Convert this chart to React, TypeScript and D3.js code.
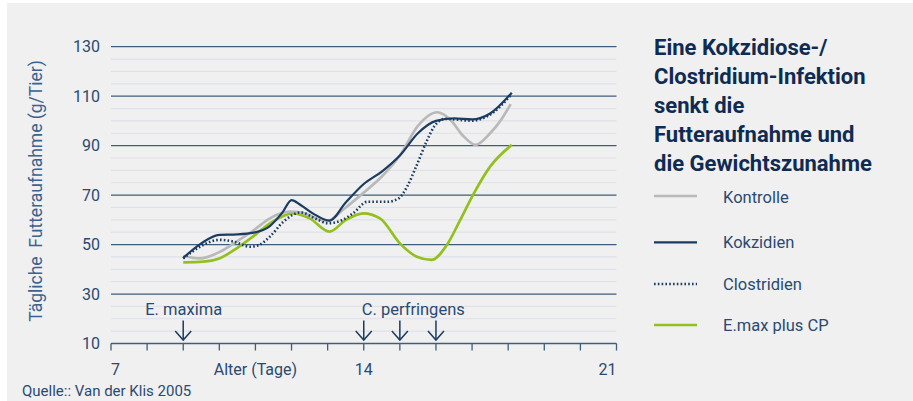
import React from "react";
import * as d3 from "d3";

// ---- data ----
const yTicks = [10, 30, 50, 70, 90, 110, 130];
const yMinorTicks = [15, 20, 25, 35, 40, 45, 55, 60, 65, 75, 80, 85, 95, 100, 105, 115, 120, 125];
const xTickDays = [7, 8, 9, 10, 11, 12, 13, 14, 15, 16, 17, 18, 19, 20, 21];
const xTickLabels = ["7", "14", "21"];

const kontrolleDays = [9.0, 9.47, 10.02, 10.48, 10.99, 11.4, 11.96, 12.3, 12.97, 13.5, 14.0, 14.5, 15.0, 15.5, 16.03, 16.4, 16.75, 17.1, 17.5, 17.8, 18.07];
const kontrolleVals = [45.4, 44.4, 47.1, 51.2, 56.2, 60.6, 63.3, 62.8, 59.5, 65, 71, 77.5, 86, 98, 103.5, 100.5, 94, 90.3, 95, 100.4, 106.8];

const kokzidienDays = [9.0, 9.5, 10.0, 10.5, 10.95, 11.4, 11.75, 12.0, 12.25, 12.6, 13.05, 13.5, 14.0, 14.5, 15.0, 15.5, 16.0, 16.5, 17.0, 17.5, 18.1];
const kokzidienVals = [44.6, 50.5, 53.9, 54.1, 54.8, 57.5, 63, 68, 66, 62.5, 59.7, 67, 74.5, 79.5, 86, 95, 100, 101, 100.6, 103, 111.4];

const clostridienDays = [9.0, 9.55, 10.0, 10.4, 10.85, 11.1, 11.4, 11.78, 12.25, 12.7, 13.0, 13.4, 13.7, 14.1, 14.65, 14.95, 15.2, 15.45, 15.75, 15.95, 16.25, 16.99, 17.55, 18.1];
const clostridienVals = [44.4, 49.8, 51.9, 51.2, 49.1, 49.8, 53.2, 59.3, 63, 60.2, 58.6, 59.9, 62.6, 67.3, 67.3, 68.5, 73.4, 81.5, 92, 97.7, 100.8, 100.1, 103, 110.9];

const emaxDays = [9.0, 9.56, 10.0, 10.48, 10.99, 11.4, 12.05, 12.5, 13.05, 13.5, 13.99, 14.45, 15.0, 15.47, 15.88, 16.3, 16.67, 17.05, 17.5, 18.1];
const emaxVals = [42.8, 43.1, 44.4, 48.5, 53.9, 58.6, 62.6, 60.6, 55.2, 59.9, 62.6, 60.6, 50.5, 45.1, 43.8, 49.8, 59.9, 70.7, 81.5, 90.3];

const seriesNames = ["Kontrolle", "Kokzidien", "Clostridien", "E.max plus CP"];
const titleLines = ["Eine Kokzidiose-/", "Clostridium-Infektion", "senkt die", "Futteraufnahme und", "die Gewichtszunahme"];
const annotationLabels = ["E. maxima", "C. perfringens"];
const eMaximaDays = [9];
const cPerfDays = [14, 15, 16];
const yAxisTitle = "Tägliche  Futteraufnahme (g/Tier)";
const xAxisTitle = "Alter (Tage)";
const sourceText = "Quelle:: Van der Klis 2005";

// ---- styles ----
const NAVY = "#1b3b60";
const GRAY = "#b9b9b9";
const GREEN = "#93c01f";
const TEXT = "#2a4a70";
const FONT = "Roboto, 'Open Sans', sans-serif";

export default function App() {
  const x = d3.scaleLinear().domain([7, 21]).range([111, 616.5]);
  const y = d3.scaleLinear().domain([10, 130]).range([343.5, 46.7]);

  const line = d3
    .line<[number, number]>()
    .x((d) => x(d[0]))
    .y((d) => y(d[1]))
    .curve(d3.curveMonotoneX);

  const zip = (a: number[], b: number[]) => a.map((v, i) => [v, b[i]] as [number, number]);

  const series = [
    { name: seriesNames[0], d: line(zip(kontrolleDays, kontrolleVals)), color: GRAY, w: 2.7, dash: undefined },
    { name: seriesNames[1], d: line(zip(kokzidienDays, kokzidienVals)), color: NAVY, w: 2.2, dash: undefined },
    { name: seriesNames[2], d: line(zip(clostridienDays, clostridienVals)), color: NAVY, w: 2.6, dash: "1.6 2.2" },
    { name: seriesNames[3], d: line(zip(emaxDays, emaxVals)), color: GREEN, w: 2.7, dash: undefined },
  ];
  const drawOrder = [3, 0, 1, 2];

  const legendY = [196, 242.3, 284, 325];

  const arrow = (day: number, key: string) => {
    const cx = x(day);
    return (
      <g key={key} stroke={NAVY} strokeWidth={1.5} fill="none">
        <line x1={cx} x2={cx} y1={320.5} y2={340} />
        <polyline points={`${cx - 8},${331} ${cx},${340} ${cx + 8},${331}`} />
      </g>
    );
  };

  return (
    <svg
      width={913}
      height={401}
      style={{ position: "absolute", left: 0, top: 0, fontFamily: FONT }}
    >
      <rect x={0} y={0} width={913} height={401} fill="#ffffff" />
      <rect x={7} y={3} width={906} height={398} fill="#f0f0f0" />

      {/* minor gridlines */}
      {yMinorTicks.map((t) => (
        <line key={"m" + t} x1={x(7)} x2={x(21)} y1={y(t)} y2={y(t)} stroke="#dfe1ea" strokeWidth={1.2} />
      ))}
      {/* major gridlines */}
      {yTicks.map((t) => (
        <line key={"g" + t} x1={x(7)} x2={x(21)} y1={y(t)} y2={y(t)} stroke="#3f5d7e" strokeWidth={1.3} />
      ))}
      {/* y tick labels */}
      {yTicks.map((t) => (
        <text key={"yl" + t} x={100} y={y(t) + 5.5} textAnchor="end" fontSize={16} fill={TEXT}>
          {t}
        </text>
      ))}
      {/* x ticks */}
      {xTickDays.map((dd) => (
        <line key={"xt" + dd} x1={x(dd)} x2={x(dd)} y1={y(10)} y2={y(10) + 7} stroke="#3f5d7e" strokeWidth={1.3} />
      ))}
      {xTickLabels.map((l) => (
        <text key={"xl" + l} x={x(+l)} y={375} textAnchor={l === "21" ? "end" : l === "7" ? "start" : "middle"} fontSize={16} fill={TEXT}>
          {l}
        </text>
      ))}
      <text x={x(11)} y={375} textAnchor="middle" fontSize={16} fill={TEXT}>
        {xAxisTitle}
      </text>

      {/* y axis title */}
      <text
        transform={`translate(42,${191}) rotate(-90)`}
        textAnchor="middle"
        fontSize={17.5}
        fill="#3a6390"
        style={{ whiteSpace: "pre" }}
      >
        {yAxisTitle}
      </text>

      {/* annotations */}
      <text x={x(9) - 38} y={315} fontSize={16.5} fill={TEXT}>
        {annotationLabels[0]}
      </text>
      {eMaximaDays.map((dd, i) => arrow(dd, "ea" + i))}
      <text x={x(14) - 2} y={315} fontSize={16.5} fill={TEXT}>
        {annotationLabels[1]}
      </text>
      {cPerfDays.map((dd, i) => arrow(dd, "ca" + i))}

      {/* series */}
      {drawOrder.map((i) => {
        const s = series[i];
        return (
          <path
            key={s.name}
            d={s.d || ""}
            fill="none"
            stroke={s.color}
            strokeWidth={s.w}
            strokeDasharray={s.dash}
            strokeLinejoin="round"
          />
        );
      })}

      {/* title */}
      {titleLines.map((t, i) => (
        <text key={"t" + i} x={654} y={54.5 + i * 29} fontSize={22} fontWeight={700} fill="#0f2b52">
          {t}
        </text>
      ))}

      {/* legend */}
      {series.map((s, i) => (
        <g key={"lg" + i}>
          <line x1={654} x2={697} y1={legendY[i]} y2={legendY[i]} stroke={s.color} strokeWidth={s.w} strokeDasharray={s.dash} />
          <text x={723} y={legendY[i] + 5.5 + (i === 0 ? 1.5 : 0)} fontSize={16.5} fill={TEXT}>
            {s.name}
          </text>
        </g>
      ))}

      {/* source */}
      <text x={22} y={396} fontSize={15} fill={TEXT}>
        {sourceText}
      </text>
    </svg>
  );
}
